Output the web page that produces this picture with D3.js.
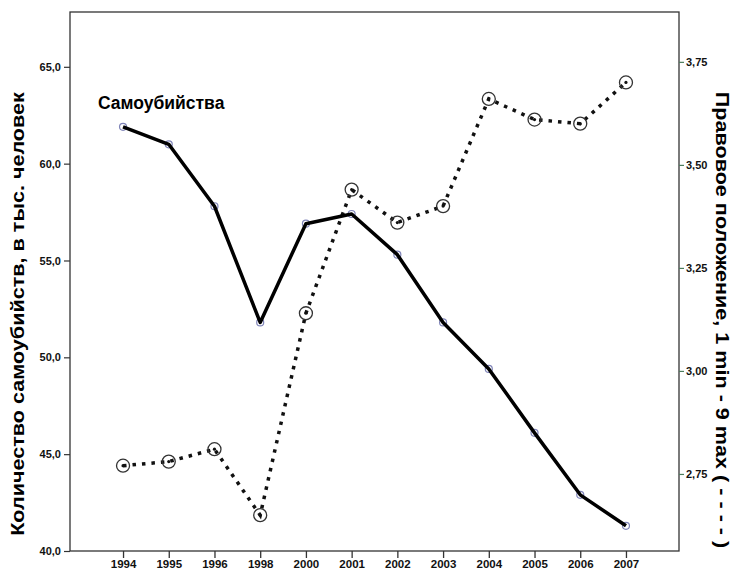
<!DOCTYPE html>
<html>
<head>
<meta charset="utf-8">
<script src="https://cdn.jsdelivr.net/npm/d3@7"></script>
<style>
  body { margin: 0; background: #fff; }
  svg { display: block; font-family: "Liberation Sans", Arial, sans-serif; }
  .axis text { font-weight: bold; fill: #111; }
</style>
</head>
<body>
<div id="chart"></div>
<script>
// Годы (категории оси X)
const years = ["1994", "1995", "1996", "1998", "2000", "2001", "2002", "2003", "2004", "2005", "2006", "2007"]
// Самоубийства, тыс. человек (левая ось, сплошная линия)
const suicides = [61.9, 61.0, 57.8, 51.8, 56.9, 57.4, 55.3, 51.8, 49.4, 46.1, 42.9, 41.3]
// Правовое положение (правая ось, пунктир)
const legal = [2.77, 2.78, 2.81, 2.65, 3.14, 3.44, 3.36, 3.40, 3.66, 3.61, 3.60, 3.70]
// Подписи делений
const leftTicks = [40, 45, 50, 55, 60, 65]
const rightTicks = [2.75, 3.00, 3.25, 3.50, 3.75]

const W = 739, H = 574
const box = { left: 70, right: 679, top: 12, bottom: 551 }

const svg = d3.select("#chart").append("svg")
    .attr("width", W)
    .attr("height", H)

// Шкалы
const x = d3.scalePoint().domain(years).range([box.left, box.right]).padding(1.16)
const yL = d3.scaleLinear().domain([40, 67.83]).range([box.bottom, box.top])
const yR = d3.scaleLinear().domain([2.563, 3.871]).range([box.bottom, box.top])

const comma = f => d => d3.format(f)(d).replace(".", ",")

// Рамка графика
svg.append("rect")
    .attr("x", box.left).attr("y", box.top)
    .attr("width", box.right - box.left).attr("height", box.bottom - box.top)
    .attr("fill", "none").attr("stroke", "#333").attr("stroke-width", 1.3)

// Ось X
const gx = svg.append("g")
    .attr("class", "axis")
    .attr("transform", "translate(0," + box.bottom + ")")
    .call(d3.axisBottom(x).tickSize(7).tickSizeOuter(0).tickPadding(2))
gx.select(".domain").remove()
gx.selectAll("line").attr("stroke", "#333").attr("stroke-width", 1.3)
gx.selectAll("text").style("font-size", "11.5px")

// Левая ось
const gl = svg.append("g")
    .attr("class", "axis")
    .attr("transform", "translate(" + box.left + ",0)")
    .call(d3.axisLeft(yL).tickValues(leftTicks).tickFormat(comma(".1f")).tickSize(6).tickPadding(3))
gl.select(".domain").remove()
gl.selectAll("line").attr("stroke", "#333").attr("stroke-width", 1.2)
gl.selectAll("text").style("font-size", "11px")

// Правая ось
const gr = svg.append("g")
    .attr("class", "axis")
    .attr("transform", "translate(" + box.right + ",0)")
    .call(d3.axisRight(yR).tickValues(rightTicks).tickFormat(comma(".2f")).tickSize(5).tickPadding(2))
gr.select(".domain").remove()
gr.selectAll("line").attr("stroke", "#4b7d5c").attr("stroke-width", 1.2)
gr.selectAll("text").style("font-size", "11px")

// Подписи осей
svg.append("text")
    .attr("transform", "translate(24,314) rotate(-90) scale(1.2,1)")
    .attr("text-anchor", "middle")
    .style("font-size", "18px").style("font-weight", "bold")
    .text("Количество самоубийств, в тыс. человек")

svg.append("text")
    .attr("transform", "translate(716,320) rotate(90) scale(1.2,1)")
    .attr("text-anchor", "middle")
    .style("font-size", "18px").style("font-weight", "bold")
    .text("Правовое положение, 1 min - 9 max ( - - - - )")

// Пунктирная линия (правая ось)
svg.append("path")
    .datum(legal)
    .attr("fill", "none")
    .attr("stroke", "#111")
    .attr("stroke-width", 3.5)
    .attr("stroke-dasharray", "3.5 6")
    .attr("d", d3.line().x((d, i) => x(years[i])).y(d => yR(d)))

svg.selectAll(".lmark")
    .data(legal)
    .join("circle")
    .attr("class", "lmark")
    .attr("cx", (d, i) => x(years[i])).attr("cy", d => yR(d))
    .attr("r", 6.5)
    .attr("fill", "none").attr("stroke", "#333").attr("stroke-width", 1.3)

svg.selectAll(".ldot")
    .data(legal)
    .join("circle")
    .attr("class", "ldot")
    .attr("cx", (d, i) => x(years[i])).attr("cy", d => yR(d))
    .attr("r", 1.6)
    .attr("fill", "#111")

// Сплошная линия (левая ось)
svg.selectAll(".smark")
    .data(suicides)
    .join("circle")
    .attr("class", "smark")
    .attr("cx", (d, i) => x(years[i])).attr("cy", d => yL(d))
    .attr("r", 3.5)
    .attr("fill", "#fff").attr("stroke", "#7f84b8").attr("stroke-width", 1.2)

svg.append("path")
    .datum(suicides)
    .attr("fill", "none")
    .attr("stroke", "#000")
    .attr("stroke-width", 3.5)
    .attr("stroke-linejoin", "round")
    .attr("d", d3.line().x((d, i) => x(years[i])).y(d => yL(d)))

// Подпись серии
svg.append("text")
    .attr("x", 98).attr("y", 109)
    .style("font-size", "17.5px").style("font-weight", "bold")
    .text("Самоубийства")
</script>
</body>
</html>
